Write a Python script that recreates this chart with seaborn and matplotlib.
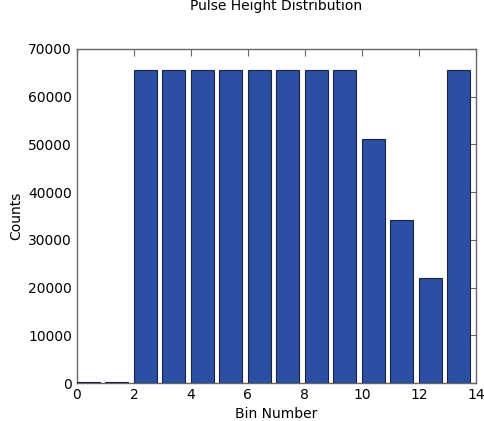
import numpy as np
import matplotlib
matplotlib.use("Agg")
import matplotlib.pyplot as plt
import seaborn as sns

bins = np.arange(14)
counts = [150, 150, 65535, 65535, 65535, 65535, 65535, 65535, 65535, 65535,
          51100, 34150, 21950, 65535]

sns.set_style("white")
plt.rcParams['font.family'] = ['DejaVu Sans']
plt.rcParams['text.color'] = 'black'
plt.rcParams['axes.labelcolor'] = 'black'

fig = plt.figure(figsize=(4.84, 4.21), dpi=100)
ax = fig.add_axes([0.159, 0.090, 0.824, 0.794])

# left-aligned bars like plain pyplot.bar
sns.barplot(x=bins + 0.4, y=counts, native_scale=True, width=0.8,
            color="#2b4fa2", saturation=1, edgecolor="#1a2440", linewidth=0.8,
            zorder=3, ax=ax)

ax.set_xlim(0, 14)
ax.set_ylim(0, 70000)
ax.set_xticks(np.arange(0, 15, 2))
ax.set_xticklabels([str(v) for v in range(0, 15, 2)])
ax.set_yticks(np.arange(0, 70001, 10000))
ax.tick_params(direction="in", length=5, width=0.8, color="#666666",
               labelcolor="black", top=True, right=True, labelsize=10, pad=3.5)
for s in ax.spines.values():
    s.set_color("#666666")
    s.set_linewidth(1)
ax.set_xlabel("Bin Number", fontsize=10, labelpad=3.5)
ax.set_ylabel("Counts", fontsize=10, labelpad=3.5)
ax.set_title("Pulse Height Distribution", fontsize=10, pad=28)

fig.savefig("out.png", dpi=100)
